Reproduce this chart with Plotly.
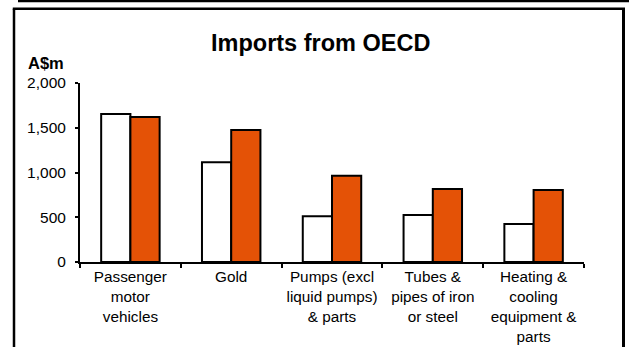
import plotly.graph_objects as go

categories = [
    "Passenger<br>motor<br>vehicles",
    "Gold",
    "Pumps (excl<br>liquid pumps)<br>& parts",
    "Tubes &<br>pipes of iron<br>or steel",
    "Heating &<br>cooling<br>equipment &<br>parts",
]
series_white = [1655, 1115, 510, 525, 425]
series_orange = [1620, 1475, 965, 815, 805]
y_ticks = [0, 500, 1000, 1500, 2000]

FONT = "Arial, Liberation Sans, sans-serif"
W, H = 629, 347
L, R, T, B = 80, 45, 83, 85
pw, ph = W - L - R, H - T - B


def px(x):
    return (x - L) / pw


def py(y):
    return (H - B - y) / ph


fig = go.Figure()
fig.add_trace(go.Bar(x=categories, y=series_white, name="Series A",
                     marker=dict(color="white", line=dict(color="black", width=2))))
fig.add_trace(go.Bar(x=categories, y=series_orange, name="Series B",
                     marker=dict(color="rgb(228,82,6)", line=dict(color="black", width=2))))

box = dict(color="black", width=2.5)
fig.update_layout(
    width=W, height=H,
    margin=dict(l=L, r=R, t=T, b=B, autoexpand=False),
    paper_bgcolor="white", plot_bgcolor="white",
    showlegend=False,
    barmode="group", bargap=0.42, bargroupgap=0,
    font=dict(family=FONT, color="black", size=15),
    xaxis=dict(showline=True, linecolor="black", linewidth=2,
               ticks="outside", tickson="boundaries", ticklen=4, tickwidth=2,
               tickcolor="black", tickfont=dict(size=15.3), tickangle=0,
               automargin=False, showgrid=False),
    yaxis=dict(range=[0, 2000], tickvals=y_ticks, tickformat=",",
               showline=True, linecolor="black", linewidth=2,
               ticks="outside", ticklen=3, tickwidth=2, tickcolor="black",
               ticklabelstandoff=6, tickfont=dict(size=15.5), automargin=False,
               showgrid=False, zeroline=False),
    annotations=[
        dict(text="<b>Imports from OECD</b>", xref="paper", yref="paper",
             x=px(320), y=py(43), xanchor="center", yanchor="middle",
             showarrow=False, font=dict(size=23.5, family=FONT)),
        dict(text="<b>A$m</b>", xref="paper", yref="paper",
             x=px(26), y=py(63), xanchor="left", yanchor="middle",
             showarrow=False, font=dict(size=16.5, family=FONT)),
    ],
    shapes=[
        dict(type="line", xref="paper", yref="paper",
             x0=px(14), x1=px(14), y0=py(400), y1=py(8.7), line=box),
        dict(type="line", xref="paper", yref="paper",
             x0=px(623.5), x1=px(623.5), y0=py(400), y1=py(8.7),
             line=dict(color="black", width=3)),
        dict(type="line", xref="paper", yref="paper",
             x0=px(12.8), x1=px(625), y0=py(8.7), y1=py(8.7), line=box),
        dict(type="rect", xref="paper", yref="paper",
             x0=px(18), x1=px(650), y0=py(2.3), y1=py(-10),
             line=dict(width=0), fillcolor="black"),
    ],
)

fig.write_html("out.html", config={"displayModeBar": False},
               post_script="document.body.style.margin='0px';"
                           "document.body.style.overflow='hidden';"
                           "document.documentElement.style.overflow='hidden';")
